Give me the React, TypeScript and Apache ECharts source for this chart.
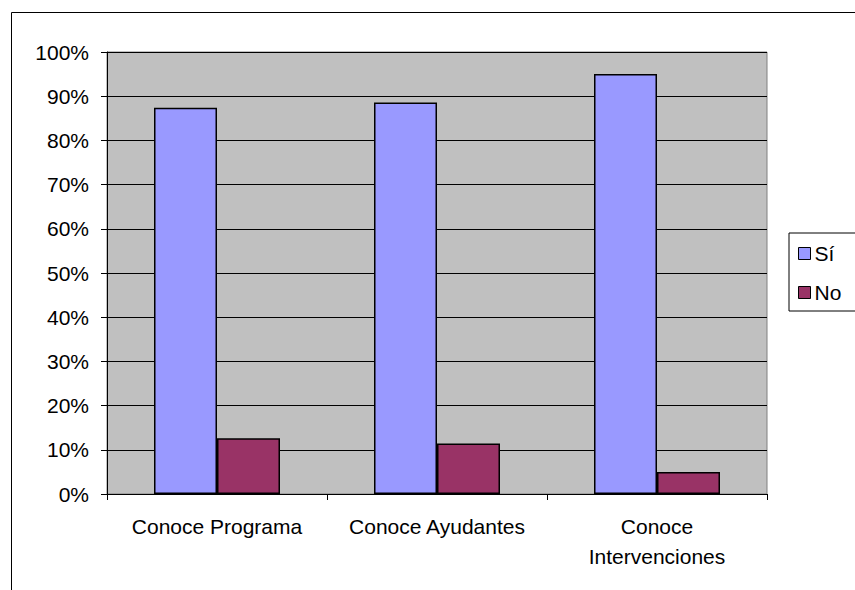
import React, { useEffect, useRef } from "react";
import * as echarts from "echarts";

const categories = ["Conoce Programa", "Conoce Ayudantes", "Conoce\nIntervenciones"];
const seriesNames = ["Sí", "No"];
const siValues = [87.4, 88.6, 95.0];
const noValues = [12.6, 11.4, 5.0];
const yTicks = [0, 10, 20, 30, 40, 50, 60, 70, 80, 90, 100];

const FONT = "'Liberation Sans', Arial, sans-serif";

export default function App() {
  const ref = useRef<HTMLDivElement>(null);
  useEffect(() => {
    if (!ref.current) return;
    const chart = echarts.init(ref.current, undefined, { renderer: "svg" });
    chart.setOption({
      animation: false,
      backgroundColor: "#ffffff",
      textStyle: { fontFamily: FONT },
      graphic: [
        {
          type: "rect",
          z: -10,
          shape: { x: 11.5, y: 12.5, width: 1000, height: 1000 },
          style: { fill: "none", stroke: "#000", lineWidth: 1 },
        },
      ],
      grid: {
        left: 107,
        right: 88,
        top: 52,
        bottom: 96,
        show: true,
        backgroundColor: "#C0C0C0",
        borderColor: "#808080",
        borderWidth: 1,
      },
      legend: {
        orient: "vertical",
        left: 789,
        top: 233,
        data: seriesNames,
        itemWidth: 12,
        itemHeight: 12,
        itemGap: 18,
        padding: [10, 60, 8, 9],
        borderColor: "#000",
        borderWidth: 1,
        backgroundColor: "#fff",
        textStyle: { fontSize: 21, color: "#000", fontFamily: FONT, padding: [0, 0, 0, -1] },
        icon: "rect",
        itemStyle: { borderColor: "#000", borderWidth: 1 },
      },
      xAxis: {
        type: "category",
        data: categories,
        axisLine: { lineStyle: { color: "#000", width: 1 } },
        axisTick: { show: true, length: 6, lineStyle: { color: "#000" } },
        axisLabel: {
          fontSize: 21,
          color: "#000",
          fontFamily: FONT,
          margin: 17,
          lineHeight: 30,
          interval: 0,
        },
      },
      yAxis: {
        type: "value",
        min: 0,
        max: 100,
        interval: 10,
        axisLine: { show: true, lineStyle: { color: "#000", width: 1 } },
        axisTick: { show: true, length: 6, lineStyle: { color: "#000" } },
        splitLine: { show: true, lineStyle: { color: "#000", width: 1 } },
        axisLabel: {
          fontSize: 21,
          color: "#000",
          fontFamily: FONT,
          margin: 18,
          formatter: (v: number) => (yTicks.includes(v) ? `${v}%` : ""),
        },
      },
      series: [
        {
          name: seriesNames[0],
          type: "bar",
          data: siValues,
          barWidth: 63,
          barGap: "0%",
          itemStyle: { color: "#9999FF", borderColor: "#000", borderWidth: 1.5 },
        },
        {
          name: seriesNames[1],
          type: "bar",
          data: noValues,
          barWidth: 63,
          barGap: "0%",
          itemStyle: { color: "#993366", borderColor: "#000", borderWidth: 1.5 },
        },
      ],
    });
    return () => chart.dispose();
  }, []);
  return (
    <div
      ref={ref}
      style={{ position: "absolute", left: 0, top: 0, width: 855, height: 590 }}
    />
  );
}
